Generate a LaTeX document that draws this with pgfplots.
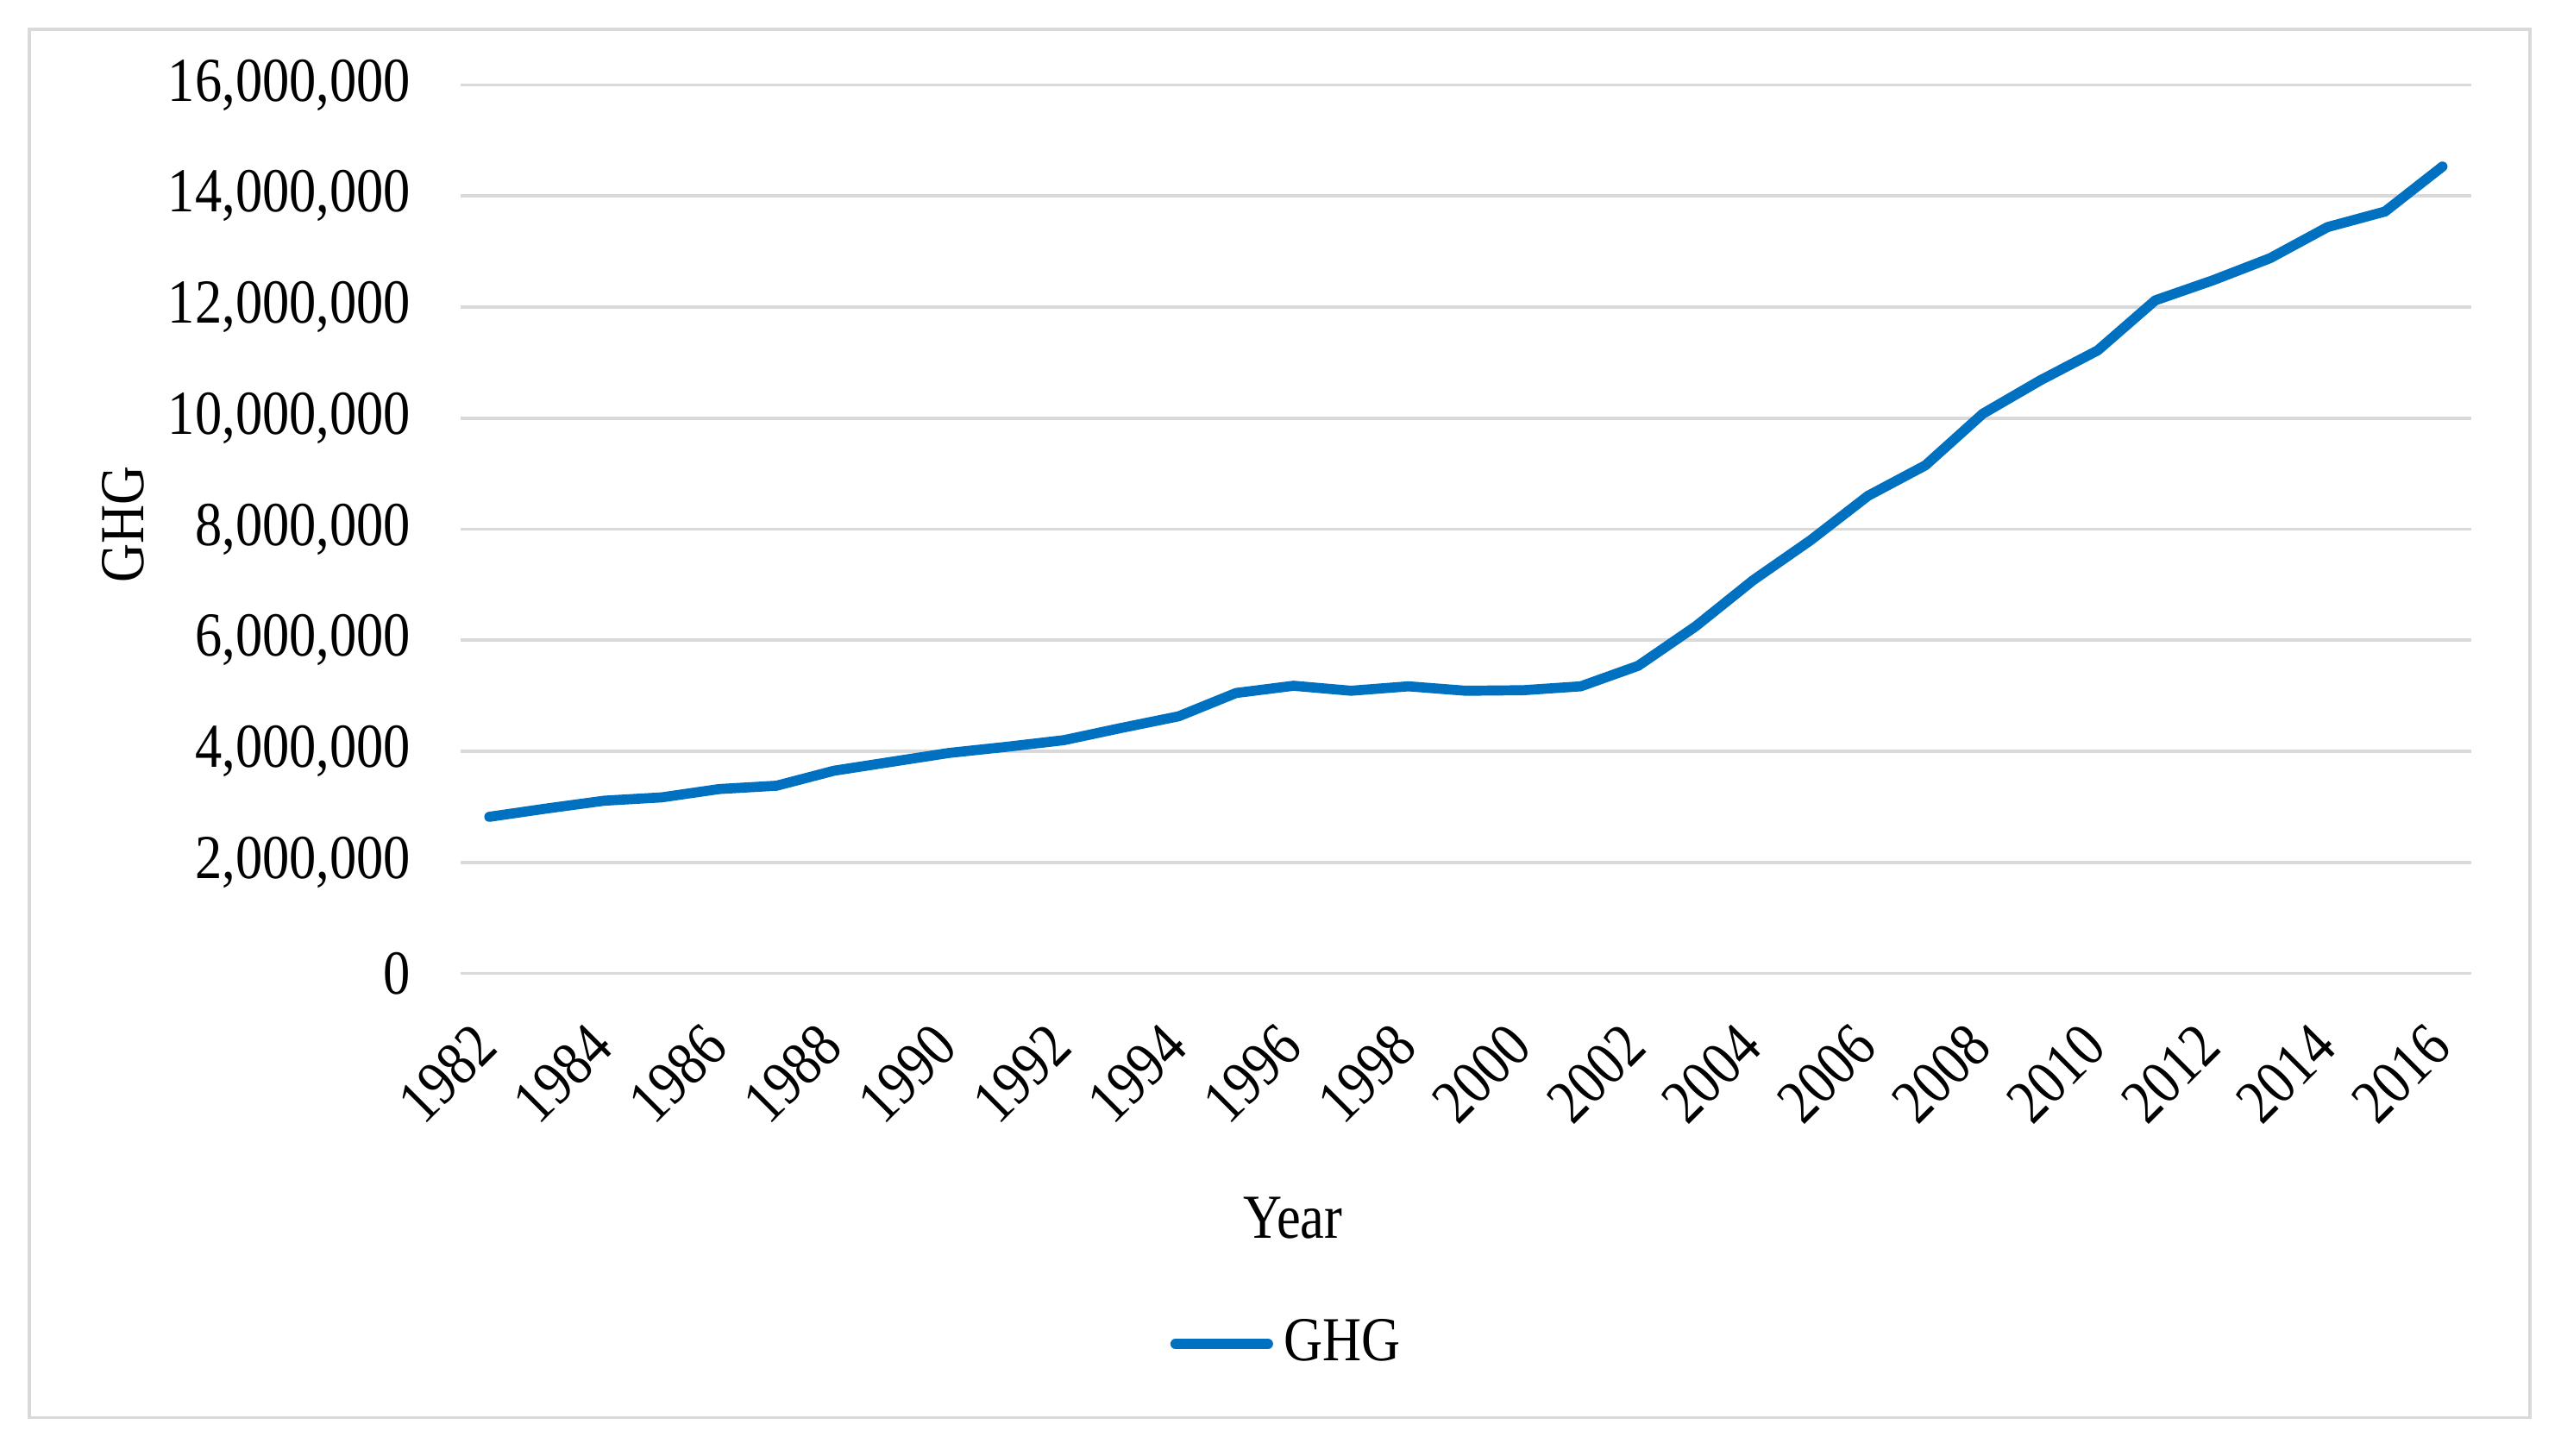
\documentclass[border=0pt]{standalone}
\usepackage{fontspec}
\setmainfont{Liberation Serif}
\newfontfamily\cfont{Liberation Serif}[FakeStretch=0.86]
\usepackage{pgfplots}
\pgfplotsset{compat=1.18}
\definecolor{ghgblue}{HTML}{0070C0}
\definecolor{gridgray}{HTML}{D9D9D9}
\begin{document}
\begin{tikzpicture}
\useasboundingbox (0,0) rectangle (470.4pt,267.3pt);
\draw[gridgray, line width=0.6pt] (5.4pt,6.9pt) rectangle (464.7pt,261.9pt);
\begin{axis}[
  at={(84.6pt,88.5pt)}, anchor=south west,
  scale only axis, width=369.3pt, height=163.2pt,
  xmin=1981.5, xmax=2016.5,
  ymin=0, ymax=16000000,
  xtick={1982,1984,...,2016},
  ytick={0,2000000,...,16000000},
  scaled y ticks=false,
  axis line style={draw=none},
  major tick length=0pt,
  ymajorgrids, grid style={gridgray, line width=0.6pt},
  /pgf/number format/assume math mode=true,
  xticklabel={\pgfmathprintnumber[fixed,precision=0,1000 sep={}]{\tick}},
  yticklabel={\pgfmathprintnumber[fixed,precision=0,1000 sep={,}]{\tick}},
  xticklabel style={font=\cfont\fontsize{11.5}{13}\selectfont, xshift=-0.5pt, yshift=-11.3pt, rotate=45, anchor=east, inner sep=0pt},
  yticklabel style={font=\cfont\fontsize{11.5}{13}\selectfont, anchor=east, inner sep=0pt, xshift=-9pt},
  xlabel={Year},
  xlabel style={font=\cfont\fontsize{11.5}{13}\selectfont, at={(axis description cs:0.414,-0.2757)}, anchor=center},
  ylabel={GHG},
  ylabel style={font=\cfont\fontsize{11.5}{13}\selectfont, at={(axis description cs:-0.168,0.5055)}, anchor=center},
  legend style={at={(axis description cs:0.413,-0.417)}, anchor=center, draw=none, fill=none, font=\cfont\fontsize{11.5}{13}\selectfont},
  legend image code/.code={\draw[#1, line cap=round] (0pt,0pt) -- (17pt,0pt);},
]
\addplot[color=ghgblue, line width=1.85pt, line cap=round, line join=round] coordinates {
(1982,2820000) (1983,2970000) (1984,3110000) (1985,3170000) (1986,3320000)
(1987,3380000) (1988,3650000) (1989,3810000) (1990,3970000) (1991,4080000)
(1992,4200000) (1993,4420000) (1994,4630000) (1995,5050000) (1996,5180000)
(1997,5090000) (1998,5170000) (1999,5090000) (2000,5100000) (2001,5170000)
(2002,5540000) (2003,6250000) (2004,7080000) (2005,7800000) (2006,8600000)
(2007,9150000) (2008,10080000) (2009,10680000) (2010,11220000) (2011,12120000)
(2012,12480000) (2013,12880000) (2014,13440000) (2015,13720000) (2016,14530000)
};
\addlegendentry{GHG}
\end{axis}
\end{tikzpicture}
\end{document}
